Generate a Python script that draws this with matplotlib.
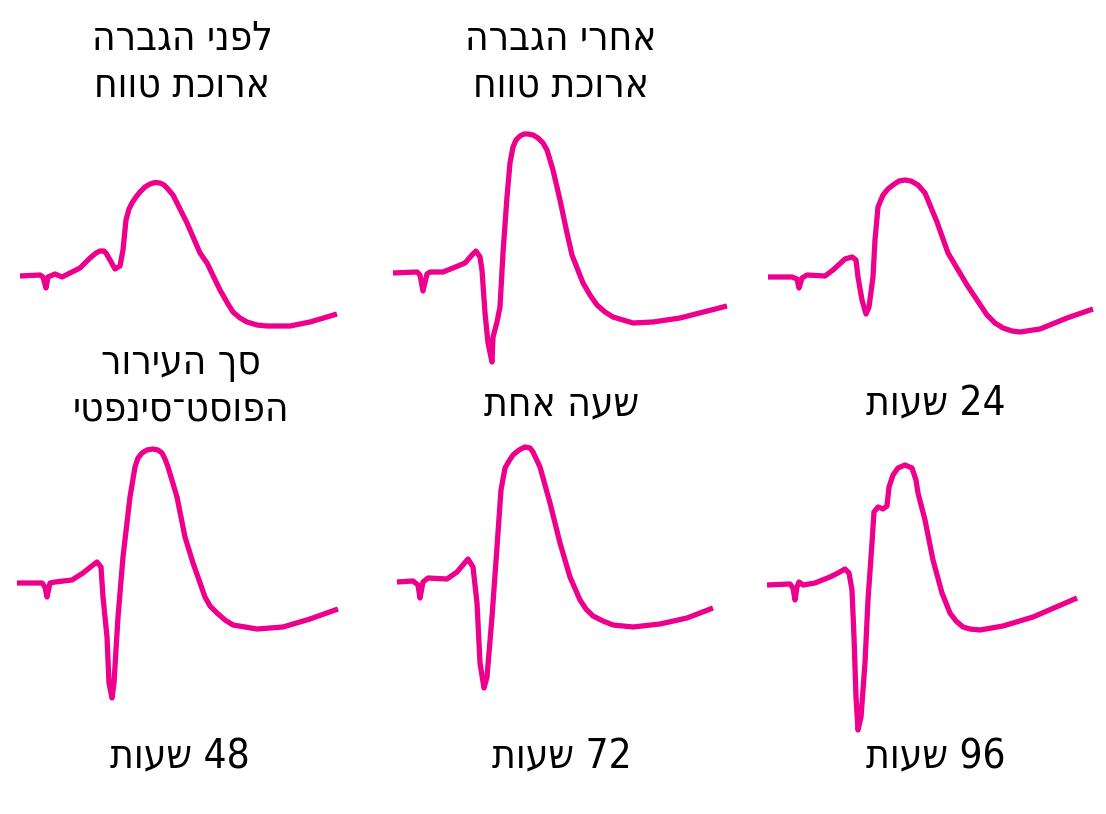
import matplotlib
matplotlib.use("Agg")
import matplotlib.pyplot as plt

plt.rcParams["font.family"] = ["DejaVu Sans"]
plt.rcParams["font.stretch"] = "condensed"

# traces: time (arbitrary units) and potential (relative to baseline)
before_t = [20, 40, 43, 46, 48, 55, 62, 70, 80, 90, 96, 100, 104, 106, 110, 115, 120, 123, 126, 129,
            132, 136, 140, 145, 150, 155, 160, 164, 167, 173, 187, 200, 207, 220, 228, 233, 240, 247,
            257, 267, 290, 310, 337]
before_v = [-1, 0, -2, -13, -2, 1, -2, 2, 7, 17, 22, 24, 24, 22, 15, 6, 9, 25, 55, 66,
            72, 78, 83, 88, 91, 92.5, 92, 90, 87, 80, 52, 22, 12, -15, -29, -37, -43, -47,
            -50, -51, -51, -47, -39]

h1_t = [18, 42, 45, 48, 52, 55, 68, 78, 90, 97, 101, 105, 107, 110, 113, 117, 118, 122, 125, 128,
        132, 135, 138, 141, 145, 149, 153, 158, 163, 168, 172, 178, 185, 192, 197, 208, 215, 222,
        230, 238, 258, 278, 305, 352]
h1_v = [2, 3, 0, -16, 1, 3, 3, 7, 12, 20, 24, 18, 5, -38, -68, -87, -62, -47, -32, 22,
        78, 112, 128, 135, 139, 141, 141, 140, 137, 132, 125, 105, 75, 42, 20, -8, -20, -30,
        -37, -42, -48, -47, -43, -31]

h24_t = [18, 42, 47, 49, 52, 57, 75, 83, 95, 102, 106, 108, 112, 116, 119, 123, 125, 128, 133, 138,
         143, 149, 155, 161, 168, 175, 187, 198, 217, 237, 245, 253, 262, 270, 290, 317, 343]
h24_v = [-2, -2, -4, -13, -3, 0, -1, 5, 16, 18, 15, -2, -25, -39, -32, -2, 35, 68, 80, 86,
         90, 94, 95, 94, 90, 82, 53, 22, -10, -40, -48, -53, -56, -57, -54, -43, -34]

h48_t = [17, 42, 45, 47, 50, 55, 72, 83, 93, 97, 101, 103, 107, 109, 112, 114, 118, 123, 130, 135,
         138, 142, 147, 153, 158, 162, 165, 168, 177, 185, 193, 205, 210, 217, 225, 233, 257, 283,
         310, 338]
h48_v = [0, 0, -4, -14, 0, 1, 3, 10, 18, 21, 16, -14, -54, -100, -115, -100, -34, 26, 86, 116,
         125, 130, 133, 134, 133, 130, 124, 116, 86, 46, 20, -14, -23, -30, -37, -42, -46, -44,
         -36, -26]

h72_t = [22, 38, 43, 45, 48, 53, 72, 82, 93, 98, 102, 105, 109, 112, 117, 122, 126, 130, 134, 138,
         144, 150, 155, 158, 165, 175, 185, 195, 205, 211, 218, 228, 238, 258, 285, 312, 338]
h72_v = [1, 2, -2, -15, 1, 5, 4, 11, 24, 16, -20, -80, -105, -94, -34, 36, 93, 115, 122, 128,
         133, 136, 135, 131, 116, 80, 40, 6, -17, -26, -33, -38, -42, -44, -41, -35, -25]

h96_t = [17, 40, 43, 45, 47, 49, 53, 65, 80, 88, 95, 99, 102, 104, 106, 108, 111, 115, 118, 122,
         124, 128, 133, 137, 139, 143, 148, 155, 162, 166, 168, 175, 183, 192, 200, 206, 213, 220,
         230, 253, 283, 327]
h96_v = [-2, -1, -5, -17, -4, 1, -2, 0, 6, 10, 14, 10, -7, -54, -114, -147, -134, -80, -17, 40,
         71, 76, 74, 77, 96, 108, 115, 118, 115, 103, 90, 63, 23, -10, -30, -38, -44, -46,
         -47, -43, -34, -15]

titles = ["לפני הגברה\nארוכת טווח", "אחרי הגברה\nארוכת טווח"]
ylabel = "סך העירור\nהפוסט־סינפטי"
time_labels = ["שעה אחת", "24 שעות", "48 שעות", "72 שעות", "96 שעות"]

color = "#EC008C"


def visual(text):
    # matplotlib has no bidi support, so lay out right-to-left by hand
    out = []
    for line in text.split("\n"):
        words = line.split(" ")[::-1]
        words = [w[::-1] if any("\u0590" <= c <= "\u05ff" for c in w) else w for w in words]
        out.append(" ".join(words))
    return "\n".join(out)


W, H = 1106, 814
fig = plt.figure(figsize=(W / 100, H / 100), dpi=100)

traces = [(before_t, before_v), (h1_t, h1_v), (h24_t, h24_v),
          (h48_t, h48_v), (h72_t, h72_v), (h96_t, h96_v)]
col_left = [0, 375, 750]
row_base = [275, 583]

for i, (t, v) in enumerate(traces):
    r, c = divmod(i, 3)
    left = col_left[c]
    top = row_base[r] - 170
    ax = fig.add_axes([left / W, 1 - (top + 330) / H, 360 / W, 330 / H])
    ax.plot(t, v, color=color, lw=3.8, solid_joinstyle="round", solid_capstyle="butt")
    ax.set_xlim(0, 360)
    ax.set_ylim(-160, 170)
    ax.axis("off")

fs = 29
fig.text(182 / W, 1 - 62 / H, visual(titles[0]), ha="center", va="center", fontsize=fs, linespacing=1.2)
fig.text(561 / W, 1 - 62 / H, visual(titles[1]), ha="center", va="center", fontsize=fs, linespacing=1.2)
fig.text(181 / W, 1 - 386 / H, visual(ylabel), ha="center", va="center", fontsize=fs, linespacing=1.2)

label_pos = [(562, 404), (936, 404), (180, 757), (562, 757), (936, 757)]
for lab, (x, y) in zip(time_labels, label_pos):
    fig.text(x / W, 1 - y / H, visual(lab), ha="center", va="center", fontsize=fs)

fig.savefig("out.png", dpi=100)
